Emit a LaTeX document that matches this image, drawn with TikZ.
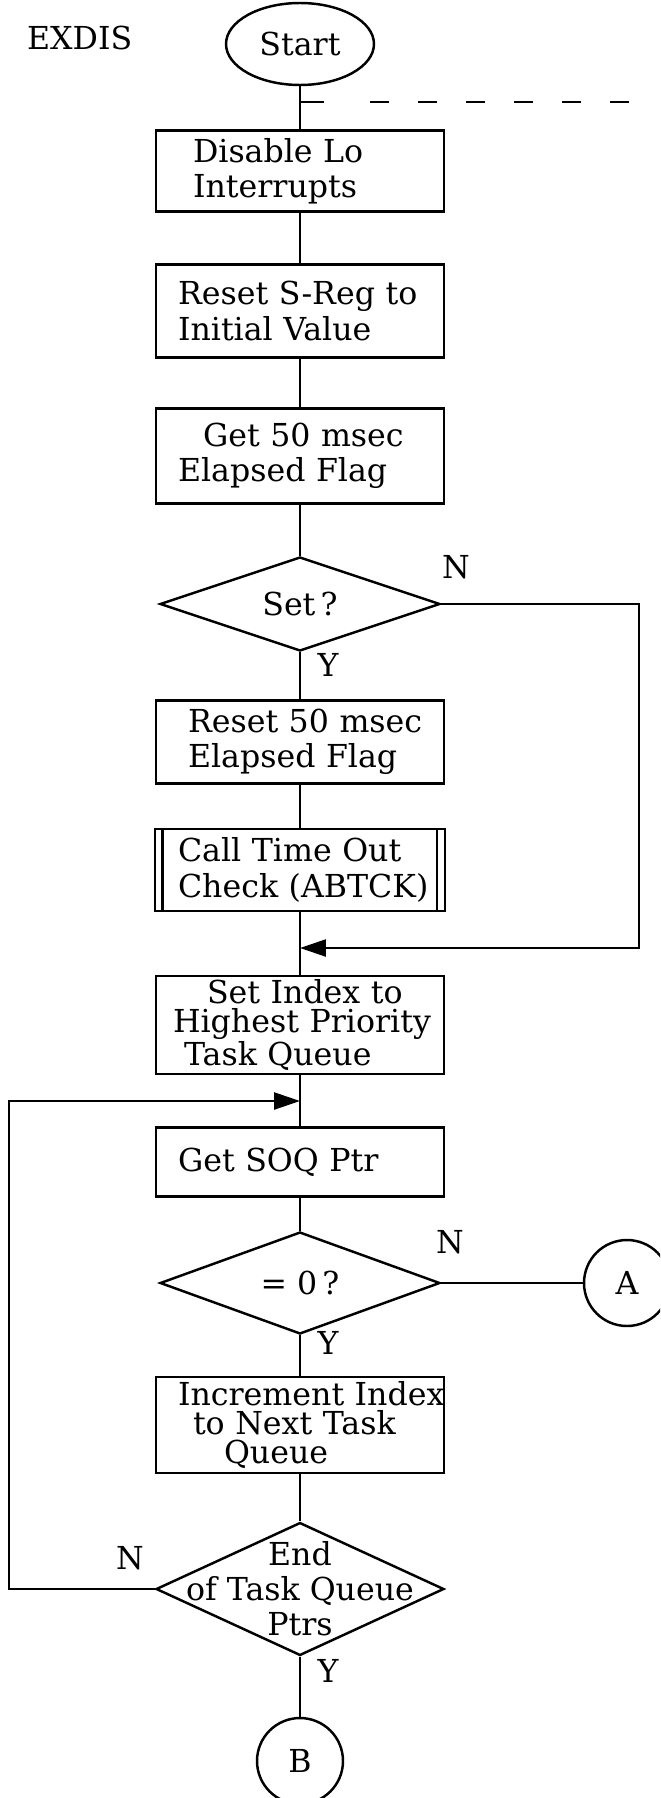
\documentclass[tikz,border=0pt]{standalone}
\usepackage{fontspec}
\setmainfont{DejaVu Serif}
\usetikzlibrary{shapes.geometric,arrows.meta}

\begin{document}
\begin{tikzpicture}[x=0.02cm,y=-0.02cm,line width=1.4pt,
        font=\fontsize{18}{20}\selectfont,
        proc/.style={draw,rectangle,minimum width=5.76cm,text width=4.88cm,
            inner xsep=0.44cm,inner ysep=0pt,align=left},
        tight/.style={font=\fontsize{18}{16.5}\selectfont},
        decide/.style={draw,diamond,aspect=3,inner sep=0pt},
        term/.style={draw,ellipse,minimum width=2.96cm,minimum height=1.64cm,inner sep=0pt},
        conn/.style={draw,circle,minimum size=1.72cm,inner sep=0pt},
        flow/.style={-{Triangle[length=0.52cm,width=0.34cm]}}]
    \useasboundingbox (0,0) rectangle (660,1798);
    \clip (0,0) rectangle (660,1798);

    % boxes down the main line
    \node[anchor=west] (exdis) at (20,38) {EXDIS};
    \node[term] (start) at (300,44) {Start};
    \node[proc,minimum height=1.62cm] (disable) at (300,171)
        {\hspace*{0.3cm}Disable Lo\\\hspace*{0.3cm}Interrupts};
    \node[proc,minimum height=1.86cm] (sreg) at (300,311)
        {\mbox{Reset S-Reg to}\\Initial Value};
    \node[proc,minimum height=1.9cm] (getflag) at (300,456)
        {\hspace*{0.5cm}Get 50 msec\\Elapsed Flag};
    \node[decide,minimum width=5.6cm,minimum height=1.88cm] (setq) at (300,604) {Set\,?};
    \node[proc,minimum height=1.66cm] (resetflag) at (300,742)
        {\hspace*{0.2cm}\mbox{Reset 50 msec}\\\hspace*{0.2cm}\mbox{Elapsed Flag}};
    \node[proc,minimum width=5.8cm,minimum height=1.64cm] (abtck) at (300,870)
        {\mbox{Call Time Out}\\\mbox{Check (ABTCK)}};
    \draw ([xshift=0.17cm]abtck.north west) -- ([xshift=0.17cm]abtck.south west);
    \draw ([xshift=-0.18cm]abtck.north east) -- ([xshift=-0.18cm]abtck.south east);
    \node[proc,tight,minimum height=1.96cm] (setindex) at (300,1025)
        {\hspace*{0.58cm}Set Index to\\\hspace*{-0.1cm}\mbox{Highest Priority}\\\hspace*{0.12cm}Task Queue};
    \node[proc,minimum height=1.38cm] (getsoq) at (300,1162) {Get SOQ Ptr};
    \node[decide,minimum width=5.6cm,minimum height=2.04cm] (zero) at (300,1283) {= 0\,?};
    \node[conn] (A) at (627,1283) {A};
    \node[proc,tight,minimum height=1.92cm] (incr) at (300,1425)
        {\mbox{Increment Index}\\\hspace*{0.3cm}to Next Task\\\hspace*{0.92cm}Queue};
    \node[decide,minimum width=5.76cm,minimum height=2.66cm,
        label={[align=center]center:End\\of Task Queue\\Ptrs}] (endq) at (300,1589) {};
    \node[conn] (B) at (300,1761) {B};

    % branch letters
    \node (nset) at (456,567) {N};
    \node (yset) at (328,665) {Y};
    \node (nzero) at (450,1242) {N};
    \node (yzero) at (328,1343) {Y};
    \node (nend) at (130,1558) {N};
    \node (yend) at (328,1671) {Y};

    \coordinate (tick) at (300,102);
    \coordinate (tickend) at (324,102);
    \coordinate (dashfrom) at (370,102);
    \coordinate (dashto) at (640,102);
    \coordinate (skip) at (639,948);
    \coordinate (merge) at (300,948);
    \coordinate (loop) at (9,1101);
    \coordinate (loopin) at (300,1101);

    % connectors
    \draw (start) -- (disable);
    \draw (tick) -- (tickend);
    \draw[dash pattern=on 0.38cm off 0.58cm] (dashfrom) -- (dashto);
    \draw (disable) -- (sreg);
    \draw (sreg) -- (getflag);
    \draw (getflag) -- (setq);
    \draw (setq) -- (resetflag);
    \draw (resetflag) -- (abtck);
    \draw (abtck) -- (setindex);
    \draw[flow] (setq.east) -| (skip) |- (merge);
    \draw (setindex) -- (getsoq);
    \draw (getsoq) -- (zero);
    \draw (zero.east) -- (A);
    \draw (zero) -- (incr);
    \draw (incr) -- (endq);
    \draw (endq) -- (B);
    \draw[flow] (endq.west) -| (loop) |- (loopin);
\end{tikzpicture}
\end{document}
